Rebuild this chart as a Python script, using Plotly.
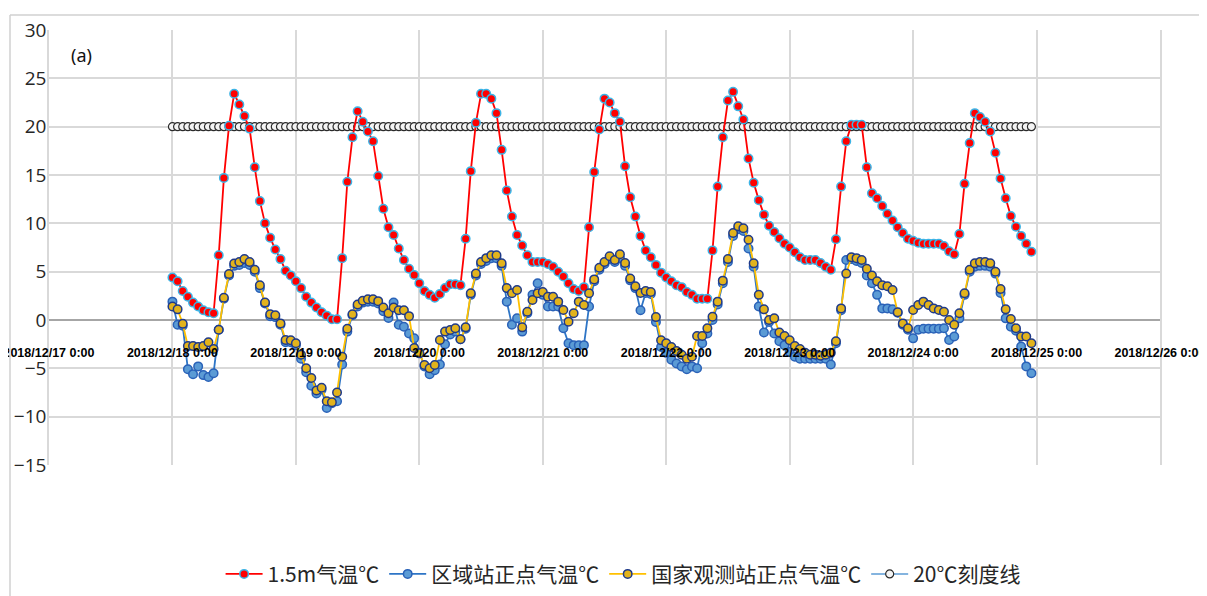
import pandas as pd
import plotly.graph_objects as go

# ---------------- data ----------------
start_time = "2018-12-18 00:00"
n_hours = 168

temp_15m = [
    4.4, 4.0, 3.0, 2.4, 1.8, 1.4, 1.0, 0.8, 0.7, 6.7, 14.7, 20.1, 23.4, 22.3, 21.1, 19.8, 15.8, 12.3, 10.0, 8.5, 7.3, 6.3, 5.1, 4.6,
    4.0, 3.3, 2.4, 1.8, 1.3, 0.8, 0.45, 0.07, 0.07, 6.4, 14.3, 18.9, 21.6, 20.5, 19.5, 18.5, 14.9, 11.5, 9.6, 8.8, 7.4, 6.2, 5.3, 4.65,
    3.8, 3.0, 2.6, 2.3, 2.7, 3.3, 3.7, 3.7, 3.6, 8.4, 15.4, 20.4, 23.4, 23.4, 22.9, 21.4, 17.6, 13.4, 10.7, 8.8, 7.7, 6.7, 6.0, 6.0,
    6.0, 5.8, 5.5, 5.0, 4.5, 3.8, 3.2, 3.0, 3.4, 9.6, 15.3, 19.7, 22.9, 22.5, 21.4, 20.5, 15.9, 12.7, 10.7, 8.7, 7.2, 6.5, 5.7, 4.9,
    4.4, 4.0, 3.6, 3.4, 2.9, 2.6, 2.2, 2.2, 2.2, 7.2, 13.8, 18.9, 22.7, 23.6, 22.1, 20.75, 16.7, 14.2, 12.4, 10.9, 9.75, 9.1, 8.45, 7.9,
    7.5, 7.0, 6.5, 6.2, 6.2, 6.2, 5.9, 5.5, 5.2, 8.35, 13.8, 18.5, 20.2, 20.2, 20.2, 15.8, 13.1, 12.6, 11.8, 11.0, 10.3, 9.6, 9.0, 8.4,
    8.2, 8.0, 7.9, 7.9, 7.9, 7.9, 7.65, 7.1, 6.8, 8.9, 14.1, 18.3, 21.4, 21.0, 20.5, 19.5, 17.3, 14.65, 12.6, 10.75, 9.65, 8.7, 7.9, 7.06,
]

temp_regional = [
    1.9, -0.5, -0.6, -5.1, -5.6, -4.8, -5.7, -5.9, -5.5, -1.0, 2.2, 4.6, 5.6, 5.7, 5.9, 5.7, 5.0, 3.3, 1.7, 0.4, 0.3, -0.5, -2.3, -2.3,
    -2.6, -4.0, -5.4, -6.8, -7.6, -7.2, -9.1, -8.6, -8.4, -4.6, -1.2, 0.5, 1.4, 1.8, 1.9, 1.9, 1.7, 0.9, 0.2, 1.8, -0.5, -0.7, -1.4, -1.9,
    -3.4, -4.8, -5.6, -5.2, -4.6, -2.5, -1.5, -1.2, -2.0, -0.9, 2.6, 4.6, 5.8, 6.1, 6.4, 6.4, 5.6, 1.9, -0.5, 0.17, -1.2, 0.7, 2.6, 3.8,
    2.6, 1.4, 1.4, 1.4, -0.86, -2.4, -2.6, -2.6, -2.6, 1.4, 4.0, 5.2, 5.8, 6.3, 6.0, 6.4, 5.6, 4.1, 3.3, 1.0, 2.8, 2.7, -0.2, -2.8,
    -3.4, -4.1, -4.5, -4.8, -5.1, -4.8, -5.0, -2.4, -1.4, 0.0, 1.6, 3.8, 6.0, 8.7, 9.4, 9.2, 7.4, 5.5, 1.4, -1.3, -0.2, -1.4, -2.2, -2.6,
    -3.3, -3.8, -4.0, -4.0, -4.0, -4.0, -4.0, -4.0, -4.6, -2.4, 1.0, 6.2, 6.3, 6.1, 5.9, 4.6, 3.8, 2.6, 1.2, 1.2, 1.1, 0.76, -0.5, -1.0,
    -1.9, -1.0, -0.9, -0.9, -0.9, -0.9, -0.86, -2.07, -1.7, 0.17, 2.6, 5.0, 5.5, 5.6, 5.6, 5.5, 4.8, 2.8, 0.17, -0.7, -1.1, -2.75, -4.8, -5.5,
]

temp_national = [
    1.4, 1.1, -0.4, -2.7, -2.7, -2.8, -2.7, -2.3, -3.0, -1.0, 2.3, 4.75, 5.85, 6.0, 6.3, 6.0, 5.2, 3.6, 1.8, 0.6, 0.5, -0.35, -2.07, -2.1,
    -2.4, -3.6, -5.0, -6.0, -7.3, -7.0, -8.4, -8.5, -7.5, -3.8, -0.9, 0.6, 1.6, 2.0, 2.15, 2.15, 1.95, 1.3, 0.7, 1.3, 1.0, 1.0, 0.4, -2.9,
    -3.45, -4.65, -5.0, -4.65, -2.07, -1.2, -1.03, -0.86, -2.0, -0.76, 2.76, 4.8, 6.0, 6.4, 6.7, 6.7, 5.86, 3.3, 2.76, 3.1, -0.76, 0.86, 2.07, 2.76,
    2.9, 2.4, 2.4, 1.9, 1.03, -0.17, 0.7, 1.9, 1.55, 2.76, 4.2, 5.4, 6.0, 6.6, 6.2, 6.8, 5.9, 4.3, 3.5, 2.8, 3.0, 2.9, 0.3, -2.1,
    -2.4, -2.8, -3.2, -3.6, -4.0, -3.8, -1.65, -1.65, -0.86, 0.34, 1.9, 4.07, 6.3, 9.0, 9.7, 9.5, 8.3, 5.86, 2.6, 1.1, 0.0, 0.17, -1.3, -1.65,
    -2.1, -2.7, -3.0, -3.4, -3.6, -3.6, -3.7, -3.6, -3.4, -2.2, 1.2, 4.8, 6.5, 6.4, 6.2, 5.3, 4.6, 4.0, 3.6, 3.5, 3.1, 0.8, -0.35, -0.86,
    1.03, 1.55, 1.9, 1.55, 1.2, 1.03, 0.86, 0.0, -0.5, 0.7, 2.76, 5.2, 5.86, 6.0, 6.0, 5.86, 5.0, 3.2, 1.1, 0.1, -0.86, -1.7, -1.7, -2.4,
]

ref_line_value = 20

day_ticks = ["2018-12-17", "2018-12-18", "2018-12-19", "2018-12-20", "2018-12-21",
             "2018-12-22", "2018-12-23", "2018-12-24", "2018-12-25", "2018-12-26"]
day_tick_labels = ["2018/12/17 0:00", "2018/12/18 0:00", "2018/12/19 0:00", "2018/12/20 0:00",
                   "2018/12/21 0:00", "2018/12/22 0:00", "2018/12/23 0:00", "2018/12/24 0:00",
                   "2018/12/25 0:00", "2018/12/26 0:00"]

series_names = ["1.5m气温℃", "区域站正点气温℃", "国家观测站正点气温℃", "20℃刻度线"]

times = pd.date_range(start_time, periods=n_hours, freq="h")
ref_line = [ref_line_value] * n_hours

# ---------------- figure ----------------
fig = go.Figure()

fig.add_trace(go.Scatter(
    x=times, y=ref_line, name=series_names[3], mode="lines+markers",
    line=dict(color="#5b9bd5", width=1.5),
    marker=dict(size=8, color="#f4f4f4", line=dict(color="#2a2a2a", width=1.2)),
    legendrank=4,
))
fig.add_trace(go.Scatter(
    x=times, y=temp_15m, name=series_names[0], mode="lines+markers",
    line=dict(color="#ff0000", width=1.8),
    marker=dict(size=8.5, color="#ff0000", line=dict(color="#3cb4e6", width=1.5)),
    legendrank=1,
))
fig.add_trace(go.Scatter(
    x=times, y=temp_regional, name=series_names[1], mode="lines+markers",
    line=dict(color="#2e75c6", width=1.8),
    marker=dict(size=8.5, color="#5b9bd5", line=dict(color="#2a62b8", width=1.5)),
    legendrank=2,
))
fig.add_trace(go.Scatter(
    x=times, y=temp_national, name=series_names[2], mode="lines+markers",
    line=dict(color="#ffc000", width=1.8),
    marker=dict(size=8.5, color="#e2b31c", line=dict(color="#1f3a8a", width=1.5)),
    legendrank=3,
))

grid_col = "#d9d9d9"

# the page body has an 8px margin, so the figure is 8px smaller and its left/top margins shifted
fig.update_layout(
    width=1199, height=588,
    margin=dict(l=41, r=47, t=22, b=131),
    paper_bgcolor="white", plot_bgcolor="white",
    showlegend=True,
    legend=dict(orientation="h", xref="container", yref="container",
                x=0.513, xanchor="center", y=0.037, yanchor="middle",
                font=dict(family="Noto Sans CJK SC, Noto Sans, sans-serif", size=21, color="#262626"),
                traceorder="normal", itemwidth=37),
    xaxis=dict(
        type="date",
        range=["2018-12-17", "2018-12-26"],
        tickvals=day_ticks, ticktext=day_tick_labels,
        showgrid=True, gridcolor=grid_col, gridwidth=1.5,
        showline=False, zeroline=False,
        anchor="free", position=0.28,
        ticks="", tickangle=0, automargin=False, ticklabeloverflow="allow",
        tickfont=dict(family="Liberation Sans, Arial, sans-serif", size=12.5, color="#000000", weight="bold"),
    ),
    yaxis=dict(
        range=[-15, 30], dtick=5, tick0=0,
        showgrid=True, gridcolor=grid_col, gridwidth=1.5,
        zeroline=True, zerolinecolor="#a6a6a6", zerolinewidth=1.5,
        showline=True, mirror=True, linecolor=grid_col, linewidth=1.5,
        ticks="", ticklabelstandoff=-3, automargin=False,
        tickfont=dict(family="Open Sans, Noto Sans, sans-serif", size=19, color="#262626"),
    ),
    annotations=[dict(text="(a)", xref="paper", yref="paper", x=0.0297, y=0.9425,
                      showarrow=False, font=dict(family="Noto Sans, sans-serif", size=18, color="#111111"),
                      xanchor="center", yanchor="middle")],
    shapes=[
        dict(type="line", xref="paper", yref="paper", x0=-0.0351, x1=1.045, y0=1.0345, y1=1.0345,
             line=dict(color="#d0d0d0", width=1.5)),
        dict(type="line", xref="paper", yref="paper", x0=-0.0351, x1=-0.0351, y0=1.0345, y1=-0.31,
             line=dict(color="#d0d0d0", width=1.5)),
    ],
)

fig.write_html("out.html")
